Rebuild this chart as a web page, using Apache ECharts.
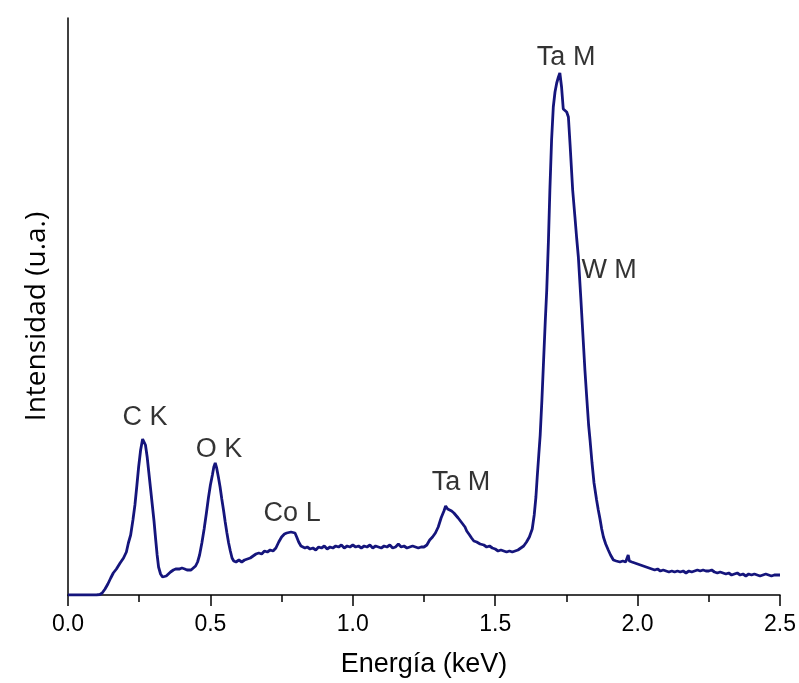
<!DOCTYPE html>
<html>
<head>
<meta charset="utf-8">
<script src="https://cdn.jsdelivr.net/npm/echarts@6/dist/echarts.min.js"></script>
<style>html,body{margin:0;padding:0;background:#fff}#c{width:799px;height:683px}</style>
</head>
<body>
<div id="c"></div>
<script>
// Energy (keV)
const energy = [0.0,0.05,0.10,0.112,0.12,0.13,0.14,0.15,0.159,0.17,0.183,0.195,0.205,0.212,0.22,0.228,0.235,0.242,0.248,0.255,0.262,0.266,0.272,0.278,0.284,0.29,0.296,0.302,0.308,0.313,0.318,0.325,0.332,0.338,0.345,0.352,0.36,0.37,0.378,0.385,0.392,0.40,0.41,0.418,0.425,0.432,0.44,0.448,0.455,0.462,0.47,0.478,0.486,0.493,0.50,0.507,0.512,0.517,0.522,0.528,0.534,0.54,0.546,0.552,0.558,0.564,0.57,0.576,0.582,0.59,0.60,0.61,0.62,0.63,0.64,0.65,0.66,0.67,0.68,0.69,0.70,0.71,0.72,0.73,0.74,0.75,0.76,0.768,0.775,0.783,0.79,0.797,0.803,0.81,0.818,0.825,0.832,0.84,0.85,0.86,0.87,0.88,0.89,0.90,0.91,0.92,0.93,0.94,0.95,0.96,0.97,0.98,0.99,1.0,1.01,1.02,1.03,1.04,1.05,1.06,1.07,1.08,1.09,1.10,1.11,1.12,1.13,1.14,1.15,1.16,1.17,1.18,1.19,1.20,1.21,1.22,1.23,1.24,1.25,1.26,1.27,1.28,1.29,1.30,1.31,1.32,1.326,1.333,1.34,1.347,1.355,1.362,1.37,1.378,1.386,1.394,1.40,1.41,1.417,1.425,1.435,1.447,1.46,1.47,1.48,1.49,1.50,1.51,1.52,1.53,1.54,1.55,1.56,1.57,1.58,1.59,1.60,1.61,1.62,1.63,1.637,1.643,1.648,1.653,1.658,1.664,1.67,1.676,1.681,1.687,1.692,1.698,1.704,1.71,1.716,1.722,1.727,1.733,1.739,1.745,1.751,1.757,1.763,1.768,1.772,1.78,1.786,1.792,1.801,1.809,1.815,1.822,1.828,1.833,1.84,1.847,1.856,1.862,1.868,1.874,1.88,1.888,1.897,1.905,1.915,1.925,1.938,1.948,1.958,1.964,1.967,1.971,1.98,1.99,2.0,2.01,2.02,2.03,2.04,2.05,2.055,2.06,2.07,2.08,2.09,2.10,2.11,2.12,2.13,2.14,2.15,2.16,2.17,2.18,2.19,2.20,2.21,2.22,2.23,2.24,2.25,2.26,2.27,2.28,2.29,2.30,2.31,2.32,2.33,2.34,2.35,2.36,2.37,2.38,2.39,2.40,2.41,2.42,2.43,2.44,2.45,2.46,2.47,2.48,2.49,2.50];
// Intensity (arbitrary units)
const intensity = [0,0,0,0.5,2,6,11,17,22,26,32,37,43,52,60,75,90,110,128,145,156,158,150,138,122,106,90,74,55,40,28,21,18,17,19,21,23,25,26,24,26,27,26,25,24,25,27,29,33,40,52,66,82,97,110,120,128,132,127,118,108,96,85,73,62,52,44,37,34,33,35,33,35,36,37,39,41,42,41,44,43,45,44,47,53,58,61,62,60,63,64,62,58,53,49,50,47,48,46,47,45,48,47,49,46,48,47,49,48,50,47,49,48,50,48,49,47,49,48,50,47,49,48,47,49,48,50,47,48,51,48,49,47,48,49,48,47,48,48,50,55,58,62,68,77,84,89,86,87,84,82,80,77,74,71,68,64,60,57,54,53,51,50,48,49,47,46,44,45,44,43,44,43,44,45,47,49,53,58,66,80,98,120,140,160,195,235,275,305,355,405,455,488,503,512,518,522,508,486,484,483,478,450,425,405,378,357,338,295,255,225,195,170,155,132,112,95,85,76,66,58,51,45,40,35,34,33,34,33,35,40,34,33,32,31,30,29,28,27,26,28,25,26,24,25,24,23,24,23,24,23,24,22,24,23,24,25,24,25,24,24,25,23,22,23,22,21,22,20,21,22,20,21,19,21,20,21,20,19,20,21,20,19,20,20,20];
// Peak annotations: text, energy, intensity
const peakNames = ['C K','O K','Co L','Ta M','Ta M','W M'];
const peakE = [0.270,0.530,0.787,1.380,1.749,1.900];
const peakI = [177,145,81,112,537,324];

const chart = echarts.init(document.getElementById('c'), null, {renderer:'canvas'});
const spectrum = energy.map((e,i)=>[e,intensity[i]]);
const ann = peakNames.map((n,i)=>({value:[peakE[i],peakI[i]],name:n}));
chart.setOption({
  animation:false,
  backgroundColor:'#ffffff',
  grid:{left:68,right:19,top:18,bottom:88,containLabel:false},
  xAxis:{
    type:'value',min:0,max:2.5,interval:0.5,
    name:'Energía (keV)',nameLocation:'middle',nameGap:56,
    nameTextStyle:{fontFamily:'Liberation Sans',fontSize:27,color:'#000'},
    axisLine:{show:true,lineStyle:{color:'#000',width:1.5}},
    axisTick:{show:true,inside:false,length:11,lineStyle:{color:'#000',width:1.5}},
    minorTick:{show:true,splitNumber:2,length:7,lineStyle:{color:'#000',width:1.5}},
    axisLabel:{margin:18,fontFamily:'Liberation Sans',fontSize:23,color:'#000',
      formatter:v=>v.toFixed(1)},
    splitLine:{show:false}
  },
  yAxis:{
    type:'value',min:0,max:577,
    name:'Intensidad (u.a.)',nameLocation:'middle',nameGap:17,nameRotate:90,
    nameTextStyle:{fontFamily:'Open Sans',fontSize:28,color:'#000',padding:[0,20,0,0]},
    axisLine:{show:true,lineStyle:{color:'#000',width:1.5}},
    axisTick:{show:false},axisLabel:{show:false},splitLine:{show:false}
  },
  series:[
    {type:'line',data:spectrum,showSymbol:false,symbol:'none',
     lineStyle:{color:'#15157c',width:2.8},z:3},
    {type:'scatter',data:ann,symbolSize:0,z:4,
     label:{show:true,position:'inside',formatter:p=>p.name,
       fontFamily:'Liberation Sans',fontSize:27,color:'#000'}}
  ]
});
</script>
</body>
</html>
